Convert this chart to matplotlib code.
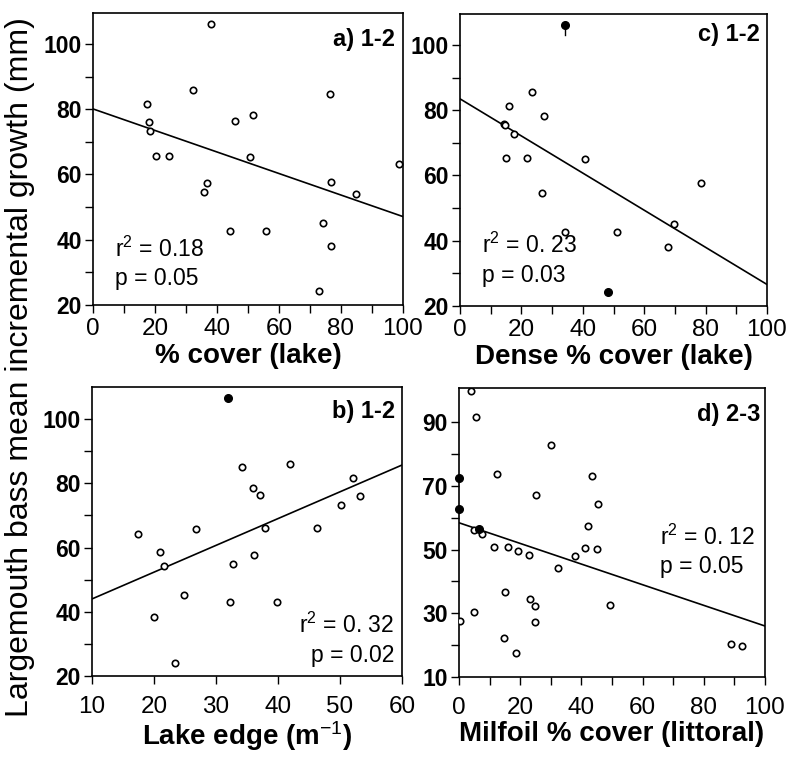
import matplotlib
matplotlib.use("Agg")
import matplotlib.pyplot as plt
from matplotlib.ticker import FixedLocator
from matplotlib import font_manager

plt.rcParams['font.family'] = ['Liberation Sans', 'DejaVu Sans']
plt.rcParams['mathtext.fontset'] = 'custom'
plt.rcParams['mathtext.rm'] = 'Liberation Sans'
plt.rcParams['mathtext.it'] = 'Liberation Sans'
plt.rcParams['mathtext.bf'] = 'Liberation Sans:bold'

_names = {f.name for f in font_manager.fontManager.ttflist}
NARROW = 'Liberation Sans Narrow' if 'Liberation Sans Narrow' in _names else 'Liberation Sans'

# ---------------- data ----------------
# a) % cover (lake)
a_x = [38.1, 32.4, 17.3, 18.0, 18.5, 20.2, 24.4, 45.9, 51.7, 50.5, 36.9, 35.8,
       44.2, 55.9, 76.5, 76.8, 84.7, 74.2, 76.7, 72.8, 98.6]
a_y = [106.1, 85.9, 81.5, 76.1, 73.2, 65.6, 65.6, 76.3, 78.3, 65.5, 57.3, 54.5,
       42.8, 42.8, 84.6, 57.8, 54.0, 45.0, 38.1, 24.3, 63.3]
a_fit_x = [0, 100]
a_fit_y = [80.1, 47.1]

# c) Dense % cover (lake)
c_x = [23.6, 16.0, 27.3, 14.2, 14.6, 17.5, 14.9, 21.7, 40.7, 26.8, 34.2, 51.1,
       78.4, 69.7, 67.9]
c_y = [85.5, 81.2, 78.1, 75.9, 75.4, 72.8, 65.4, 65.4, 65.2, 54.5, 42.8, 42.8,
       57.7, 45.0, 38.0]
c_fx = [34.2, 48.3]
c_fy = [106.2, 24.4]
c_fit_x = [0, 100]
c_fit_y = [83.5, 26.6]

# b) Lake edge
b_x = [34.2, 41.9, 36.0, 37.1, 52.1, 53.2, 50.2, 17.4, 26.7, 37.9, 46.3, 20.9,
       21.6, 36.1, 32.7, 24.8, 20.0, 32.3, 39.8, 23.4]
b_y = [85.0, 86.0, 78.4, 76.5, 81.6, 75.9, 73.3, 64.3, 65.9, 66.0, 66.0, 58.5,
       54.4, 57.6, 55.0, 45.2, 38.3, 42.9, 42.9, 24.2]
b_fx = [32.0]
b_fy = [106.7]
b_fit_x = [10, 60]
b_fit_y = [44.0, 85.7]

# d) Milfoil % cover (littoral)
d_x = [3.8, 5.4, 30.1, 12.4, 43.6, 25.1, 45.5, 42.0, 4.8, 7.4, 11.4, 16.1, 19.4,
       22.9, 41.2, 45.2, 37.8, 32.5, 15.0, 23.3, 24.9, 49.3, 4.9, 0.4, 24.9,
       14.6, 18.7, 89.0, 92.6]
d_y = [99.8, 91.7, 82.7, 73.7, 73.2, 67.1, 64.3, 57.5, 56.0, 54.8, 50.7, 50.9,
       49.6, 48.2, 50.6, 50.2, 48.0, 44.1, 36.8, 34.4, 32.4, 32.5, 30.3, 27.6,
       27.2, 22.3, 17.4, 20.4, 19.6]
d_fx = [0.0, 0.0, 6.6]
d_fy = [72.6, 62.6, 56.3]
d_fit_x = [0, 100]
d_fit_y = [58.4, 26.0]

panel_labels = ["a) 1-2", "c) 1-2", "b) 1-2", "d) 2-3"]
stats = [("r$^2$ = 0.18", "p = 0.05"), ("r$^2$ = 0. 23", "p = 0.03"),
         ("r$^2$ = 0. 32", "p = 0.02"), ("r$^2$ = 0. 12", "p = 0.05")]
xlabels = ["% cover (lake)", "Dense % cover (lake)", "Lake edge (m$^{-1}$)",
           "Milfoil % cover (littoral)"]
ylabel = "Largemouth bass mean incremental growth (mm)"

# ---------------- figure ----------------
W, H = 798, 757
fig = plt.figure(figsize=(W / 100, H / 100), dpi=100)


def ax_px(l, r, t, b):
    return fig.add_axes([l / W, 1 - b / H, (r - l) / W, (b - t) / H])


ax_a = ax_px(93, 403, 13, 305)
ax_c = ax_px(460, 767, 14, 306)
ax_b = ax_px(92, 402, 387, 676)
ax_d = ax_px(459, 765, 388, 677)


def style(ax, xlim, ylim, xmaj, xmin, ymaj, ymin, xlabel, xpad, lpad):
    ax.set_xlim(*xlim)
    ax.set_ylim(*ylim)
    ax.xaxis.set_major_locator(FixedLocator(xmaj))
    ax.yaxis.set_major_locator(FixedLocator(ymaj))
    if xmin:
        ax.xaxis.set_minor_locator(FixedLocator(xmin))
    if ymin:
        ax.yaxis.set_minor_locator(FixedLocator(ymin))
    for s in ax.spines.values():
        s.set_linewidth(1.2)
    ax.tick_params(which='both', direction='out', length=6, width=1.0,
                   top=False, right=False)
    ax.tick_params(axis='x', pad=xpad)
    ax.tick_params(axis='y', pad=2)
    for lbl in ax.get_xticklabels():
        lbl.set_fontsize(17.5)
        lbl.set_family(NARROW)
    for lbl in ax.get_yticklabels():
        lbl.set_fontsize(16.5)
        lbl.set_fontweight('bold')
    ax.set_xlabel(xlabel, fontsize=20, fontweight='bold', labelpad=lpad)


def pts(ax, x, y, fx=None, fy=None, fitx=None, fity=None):
    ax.plot(fitx, fity, color='black', lw=1.2, zorder=2)
    ax.plot(x, y, 'o', mfc='white', mec='black', ms=4.6, mew=1.2, zorder=3)
    if fx:
        ax.plot(fx, fy, 'o', color='black', ms=5.5, zorder=4, clip_on=False)


pts(ax_a, a_x, a_y, None, None, a_fit_x, a_fit_y)
style(ax_a, (0, 100), (20, 109.5), [0, 20, 40, 60, 80, 100],
      [10, 30, 50, 70, 90], [20, 40, 60, 80, 100], [30, 50, 70, 90], xlabels[0], 3.5, 2)

pts(ax_c, c_x, c_y, c_fx, c_fy, c_fit_x, c_fit_y)
ax_c.plot([c_fx[0], c_fx[0]], [c_fy[0], c_fy[0] - 3.0], color='black', lw=1.0)
style(ax_c, (0, 100), (20, 109.5), [0, 20, 40, 60, 80, 100],
      [10, 30, 50, 70, 90], [20, 40, 60, 80, 100], [30, 50, 70, 90], xlabels[1], 3.5, 2)

pts(ax_b, b_x, b_y, b_fx, b_fy, b_fit_x, b_fit_y)
style(ax_b, (10, 60), (20, 110), [10, 20, 30, 40, 50, 60], None,
      [20, 40, 60, 80, 100], [30, 50, 70, 90], xlabels[2], 8.5, 1)

pts(ax_d, d_x, d_y, d_fx, d_fy, d_fit_x, d_fit_y)
style(ax_d, (0, 100), (10, 100.7), [0, 20, 40, 60, 80, 100],
      [10, 30, 50, 70, 90], [10, 30, 50, 70, 90], [20, 40, 60, 80], xlabels[3], 8.5, 1)

# panel labels
lab_pos = [(ax_a, 0.974, 0.887), (ax_c, 0.977, 0.908),
           (ax_b, 0.977, 0.893), (ax_d, 0.984, 0.886)]
for (ax, x, y), t in zip(lab_pos, panel_labels):
    ax.text(x, y, t, transform=ax.transAxes, ha='right', va='baseline',
            fontsize=17, fontweight='bold')

# stats
st_pos = [(ax_a, 0.071, 0.164, 0.068, 'left'),
          (ax_c, 0.072, 0.182, 0.082, 'left'),
          (ax_b, 0.974, 0.149, 0.048, 'right'),
          (ax_d, 0.657, 0.457, 0.360, 'left')]
for (ax, x, y1, y2, ha), (s1, s2) in zip(st_pos, stats):
    ax.text(x, y1, s1, transform=ax.transAxes, ha=ha, va='baseline', fontsize=16.5)
    ax.text(x, y2, s2, transform=ax.transAxes, ha=ha, va='baseline', fontsize=16.5)

fig.text(20 / W, 1 - 367 / H, ylabel, rotation=90, ha='center', va='center',
         fontsize=23)

fig.savefig("out.png", dpi=100)
